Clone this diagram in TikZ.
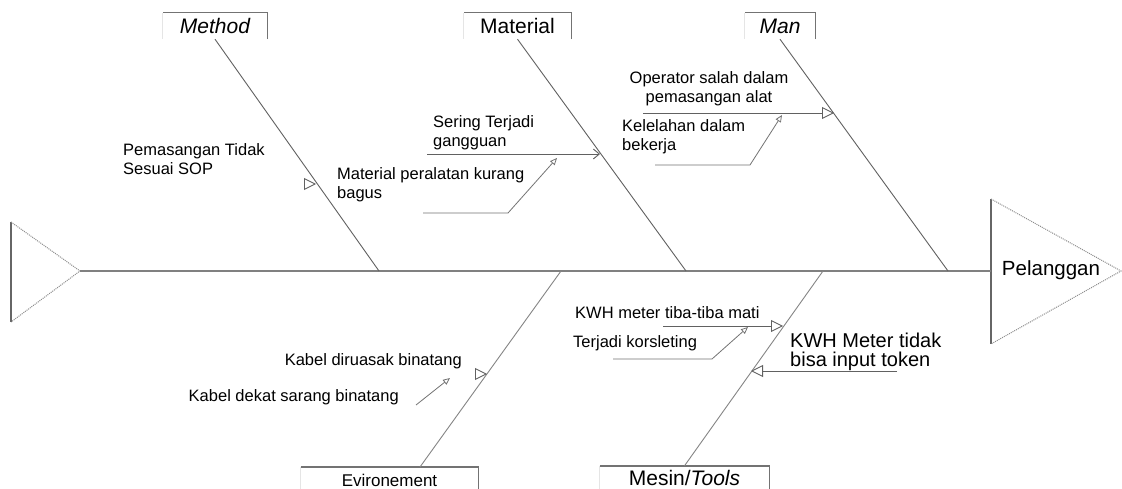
\documentclass[tikz,border=0pt]{standalone}
\usepackage{fontspec}
\setmainfont{Liberation Sans}
\usetikzlibrary{arrows.meta,calc}
\begin{document}
\begin{tikzpicture}[x=1pt,y=-1pt,
  spine/.style={draw=black!50, line width=1.8pt},
  bone/.style={draw=black!62, line width=0.9pt},
  lowbone/.style={draw=black!48, line width=0.9pt},
  framepart/.style={draw=black!55, line width=1.4pt},
  faintedge/.style={draw=black!10, line width=0.8pt},
  headedge/.style={draw=black!45, line width=1pt, densely dotted},
  headback/.style={draw=black!60, line width=1.4pt},
  catbox/.style={inner sep=0pt, font=\fontsize{21}{24}\selectfont},
  lowcat/.style={inner sep=0pt, font=\fontsize{17}{20}\selectfont},
  cause/.style={inner sep=0pt, font=\fontsize{16.5}{19}\selectfont, align=left},
  bigcause/.style={inner sep=0pt, font=\fontsize{20}{19}\selectfont, align=left},
  maintip/.style={draw=black!62, line width=0.9pt, -{Triangle[open,length=12pt,width=12pt]}},
  subtip/.style={draw=black!55, line width=0.8pt, -{Triangle[open,length=7pt,width=6pt]}},
  chevtip/.style={draw=black!62, line width=0.9pt, -{Straight Barb[length=6pt,width=10pt]}},
]
\useasboundingbox (0,0) rectangle (1122,489);
\fill[white] (0,0) rectangle (1122,489);

% tail of the fish
\coordinate (tailtop) at (11,222);
\coordinate (tailbot) at (11,322);
\coordinate (tailtip) at (80,271);
\draw[headback] (tailtop) -- (tailbot);
\draw[headedge] (tailtop) -- (tailtip) -- (tailbot);

% head of the fish
\coordinate (headtop) at (991,199);
\coordinate (headbot) at (991,344);
\coordinate (headtip) at (1121,271);
\coordinate (headmid) at (991,271);
\draw[headback] (headtop) -- (headbot);
\draw[headedge] (headtop) -- (headtip) -- (headbot);
\node[inner sep=0pt, font=\fontsize{20.5}{24}\selectfont] (effect) at (1051,270) {Pelanggan};

% spine
\draw[spine] (tailtip) -- (headmid);

% category boxes (top row)
\node[catbox, minimum width=104pt, minimum height=26pt] (method) at (215,26) {\itshape Method};
\node[catbox, minimum width=107pt, minimum height=26pt] (material) at (517.5,26) {Material};
\node[catbox, minimum width=70pt, minimum height=26pt] (man) at (780,26) {\itshape Man};
% category boxes (bottom row)
\node[lowcat, minimum width=177pt, minimum height=26pt] (env) at (389.5,480) {Evironement};
\node[catbox, minimum width=169pt, minimum height=24pt] (mesin) at (684.5,478) {Mesin/\textit{Tools}};

\foreach \b in {method,material,man} {
  \draw[framepart] (\b.south east) -- (\b.north east) -- (\b.north west);
  \draw[faintedge] (\b.north west) -- (\b.south west);
}
\foreach \b in {env,mesin} {
  \draw[framepart] (\b.north west) -- (\b.north east) -- (\b.north east |- 0,489);
  \draw[faintedge] (\b.north west) -- (\b.north west |- 0,489);
}

% bones
\coordinate (methodjoin) at (379,271);
\coordinate (materialjoin) at (686,271);
\coordinate (manjoin) at (948,271);
\coordinate (envjoin) at (561,271);
\coordinate (envfoot) at (420,467);
\coordinate (mesinjoin) at (823,271);
\draw[bone] (method.south) -- (methodjoin);
\draw[bone] (material.south) -- (materialjoin);
\draw[bone] (man.south) -- (manjoin);
\draw[lowbone] (envfoot) -- (envjoin);
\draw[lowbone] (mesin.north) -- (mesinjoin);

% Method causes
\node[cause, anchor=west] (pemasangan) at (123,159) {Pemasangan Tidak\\Sesuai SOP};
\coordinate (pembase) at (304,184);
\coordinate (pemtip) at (316,184);
\draw[maintip] (pembase) -- (pemtip);

% Material causes
\node[cause, anchor=south west] (sering) at (433,150) {Sering Terjadi\\gangguan};
\coordinate (seringstart) at (427,154);
\coordinate (seringtip) at (600,154);
\draw[chevtip] (seringstart) -- (seringtip);

\node[cause, anchor=west] (peralatan) at (337,184.5) {Material peralatan kurang\\bagus};
\coordinate (peralstart) at (423,213);
\coordinate (peralbend) at (508,213);
\coordinate (peraltip) at (557,158);
\draw[subtip] (peralstart) -- (peralbend) -- (peraltip);

% Man causes
\node[cause, align=center] (operator) at (709,89) {Operator salah dalam\\pemasangan alat};
\coordinate (operstart) at (643,113);
\coordinate (opertip) at (834,113);
\draw[maintip] (operstart) -- (opertip);

\node[cause, anchor=west] (kelelahan) at (622,137) {Kelelahan dalam\\bekerja};
\coordinate (lelahstart) at (655,165);
\coordinate (lelahbend) at (750,165);
\coordinate (lelahtip) at (782,115);
\draw[subtip] (lelahstart) -- (lelahbend) -- (lelahtip);

% Environment causes
\node[cause, anchor=east] (diruasak) at (462,361) {Kabel diruasak binatang};
\coordinate (ruasbase) at (475,374);
\coordinate (ruastip) at (487,374);
\draw[maintip] (ruasbase) -- (ruastip);

\node[cause, anchor=east] (sarang) at (399,397) {Kabel dekat sarang binatang};
\coordinate (sarangstart) at (416,405);
\coordinate (sarangtip) at (450,378);
\draw[subtip] (sarangstart) -- (sarangtip);

% Machine / tools causes
\node[cause, anchor=west] (mati) at (575,313) {KWH meter tiba-tiba mati};
\coordinate (matistart) at (663,326);
\coordinate (matitip) at (783,326);
\draw[maintip] (matistart) -- (matitip);

\node[cause, anchor=west] (korsleting) at (573,343) {Terjadi korsleting};
\coordinate (korsstart) at (613,359);
\coordinate (korsbend) at (712,359);
\coordinate (korstip) at (748,327);
\draw[subtip] (korsstart) -- (korsbend) -- (korstip);

\node[bigcause, anchor=west] (token) at (790,352) {KWH Meter tidak\\bisa input token};
\coordinate (tokenstart) at (897,371);
\coordinate (tokentip) at (751,371);
\draw[maintip] (tokenstart) -- (tokentip);
\end{tikzpicture}
\end{document}
